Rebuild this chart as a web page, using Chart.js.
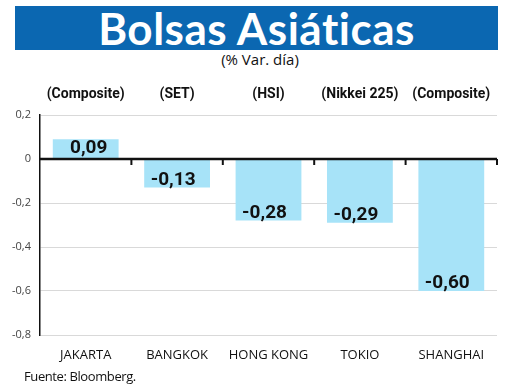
<!DOCTYPE html>
<html>
<head>
<meta charset="utf-8">
<script src="https://cdn.jsdelivr.net/npm/chart.js@4"></script>
<style>
body{margin:0;width:520px;height:390px;background:#fff;position:relative;overflow:hidden;font-family:"Open Sans",sans-serif;}
#banner{position:absolute;left:15px;top:6px;width:483px;height:44px;background:#0b67b1;color:#fff;text-align:center;
  font-family:Lato,sans-serif;font-weight:700;font-size:44px;line-height:44px;letter-spacing:0.5px;}
#sub{position:absolute;left:0;width:520px;top:49px;text-align:center;font-size:15px;color:#111;}
#src{position:absolute;left:24px;top:367px;font-size:13px;color:#111;letter-spacing:-0.4px;}
#wrap{position:absolute;left:0;top:70px;width:520px;height:300px;}
</style>
</head>
<body>
<div id="banner">Bolsas Asiáticas</div>
<div id="sub">(% Var. día)</div>
<div id="wrap"><canvas id="chart"></canvas></div>
<div id="src">Fuente: Bloomberg.</div>
<script>
// datos (% variacion diaria)
const markets=["JAKARTA","BANGKOK","HONG KONG","TOKIO","SHANGHAI"]
const indexNames=["(Composite)","(SET)","(HSI)","(Nikkei 225)","(Composite)"]
const changes=[0.09,-0.13,-0.28,-0.29,-0.60]

const fmt=v=>v===0?"0":(Math.round(v*100)/100).toFixed(2).replace(".",",")
const fmtTick=v=>Math.abs(v)<1e-9?"0":(Math.round(v*10)/10).toFixed(1).replace(".",",")

// etiquetas de valor + linea del cero con marcas
const barExtras={
id:"barExtras",
afterDatasetsDraw(chart){
const ctx=chart.ctx
const x=chart.scales.x, y=chart.scales.y
const area=chart.chartArea
const y0=y.getPixelForValue(0)

ctx.save()
ctx.strokeStyle="#111"
ctx.lineWidth=2.5
ctx.beginPath()
ctx.moveTo(area.left,y0)
ctx.lineTo(area.right,y0)
ctx.stroke()
ctx.lineWidth=2
const step=x.getPixelForValue(1)-x.getPixelForValue(0)
for(let i=0;i<markets.length;i++){
const bx=x.getPixelForValue(i)+step/2
ctx.beginPath()
ctx.moveTo(bx,y0)
ctx.lineTo(bx,y0+6)
ctx.stroke()
}

ctx.fillStyle="#111"
ctx.font="bold 19px Roboto, sans-serif"
ctx.textAlign="center"
chart.getDatasetMeta(0).data.forEach((bar,i)=>{
const v=changes[i]
if(v>=0){
ctx.textBaseline="top"
ctx.fillText(fmt(v),bar.x+3,bar.y)
}else{
ctx.textBaseline="alphabetic"
ctx.fillText(fmt(v),bar.x-4,bar.y-3)
}
})
ctx.restore()
}
}

new Chart(document.getElementById("chart"),{
type:"bar",
data:{
labels:markets,
datasets:[{
data:changes,
backgroundColor:"#a7e3f8",
borderWidth:0,
barPercentage:0.72,
categoryPercentage:1
}]
},
options:{
responsive:true,
maintainAspectRatio:false,
animation:false,
layout:{padding:{left:0,right:23,top:0,bottom:0}},
plugins:{legend:{display:false},tooltip:{enabled:false}},
scales:{
x:{
position:"bottom",
grid:{display:false},
border:{display:false},
ticks:{padding:4,color:"#111",maxRotation:0,minRotation:0,autoSkip:false,font:{family:"'Open Sans', sans-serif",size:13}},
afterFit(s){s.height=35}
},
x2:{
type:"category",
position:"top",
labels:indexNames,
offset:true,
grid:{display:false},
border:{display:false},
ticks:{padding:4,color:"#111",maxRotation:0,minRotation:0,autoSkip:false,font:{family:"Roboto, sans-serif",size:14,weight:"bold"}},
afterFit(s){s.height=45}
},
y:{
min:-0.8,
max:0.2,
ticks:{stepSize:0.2,padding:9,color:"#444",font:{family:"'Open Sans', sans-serif",size:11},callback:v=>fmtTick(v)},
grid:{color:"#d9d9d9",lineWidth:1,drawTicks:false},
border:{display:true,color:"#111",width:1.5},
afterFit(s){s.width=40}
}
}
},
plugins:[barExtras]
})
</script>
</body>
</html>
